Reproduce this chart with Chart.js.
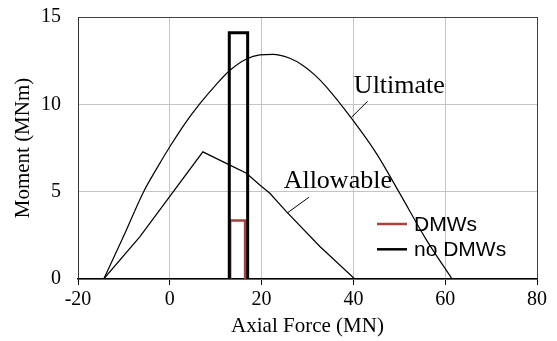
<!DOCTYPE html>
<html>
<head>
<meta charset="utf-8">
<script src="https://cdn.jsdelivr.net/npm/chart.js@4/dist/chart.umd.min.js"></script>
<style>
  html, body { margin: 0; padding: 0; background: #fff; }
  #wrap { width: 557px; height: 341px; }
</style>
</head>
<body>
<div id="wrap"><canvas id="canvas"></canvas></div>
<script>
// values
var ultimateX = [-14.4, -10.1, -5.7, -2.8, 0, 3.3, 6.6, 10, 13.1, 16.7, 19.6, 22.5, 26, 29, 31.5, 34.1, 39.6, 45, 50.1, 55.9, 61.5];
var ultimateY = [0, 2.43, 5.0, 6.35, 7.57, 8.9, 10.05, 11.1, 11.95, 12.6, 12.83, 12.86, 12.65, 12.23, 11.7, 11.0, 9.19, 7.19, 4.9, 2.24, 0];

var allowableX = [-14.4, -6.5, 7.2, 13.1, 16.7, 19.6, 21.8, 25.4, 32.7, 40.3];
var allowableY = [0, 2.43, 7.28, 6.52, 6.05, 5.38, 4.91, 3.86, 1.86, 0];

var noDmwX = [12.96, 12.96, 16.96, 16.96];
var noDmwY = [0, 14.1, 14.1, 0];
var dmwX = [13.15, 13.15, 16.4, 16.4];
var dmwY = [0, 3.35, 3.35, 0];

var xTicks = [-20, 0, 20, 40, 60, 80];
var yTicks = [0, 5, 10, 15];

var seriesNames = ['DMWs', 'no DMWs'];
var curveLabels = ['Ultimate', 'Allowable'];

function pts(xs, ys) {
    return xs.map(function (x, i) { return { x: x, y: ys[i] }; });
}

var RED = '#a8403c';
var serif = '"Liberation Serif", "Times New Roman", serif';

// text labels with little leader lines, plus the in-plot legend
var extras = {
    id: 'extras',
    afterDatasetsDraw: function (chart) {
        var c = chart.ctx, xs = chart.scales.x, ys = chart.scales.y;
        var px = function (v) { return xs.getPixelForValue(v); };
        var py = function (v) { return ys.getPixelForValue(v); };
        c.save();
        c.strokeStyle = '#000';
        c.lineWidth = 1;
        c.beginPath();
        c.moveTo(px(43.1), py(10.18)); c.lineTo(px(39.6), py(9.26));
        c.moveTo(px(30.3), py(4.68)); c.lineTo(px(25.7), py(3.8));
        c.stroke();

        c.fillStyle = '#000';
        c.font = '26px ' + serif;
        c.textBaseline = 'alphabetic';
        c.textAlign = 'left';
        c.fillText(curveLabels[0], px(40.1), py(10.63));
        c.fillText(curveLabels[1], px(24.8), py(5.19));

        // legend
        var colors = [RED, '#000'];
        c.font = '21px "Liberation Sans", Arial, sans-serif';
        c.textBaseline = 'middle';
        for (var i = 0; i < seriesNames.length; i++) {
            var y = 224 + i * 25.3;
            c.strokeStyle = colors[i];
            c.lineWidth = 2.5;
            c.beginPath();
            c.moveTo(377, y); c.lineTo(407, y);
            c.stroke();
            c.fillStyle = '#000';
            c.fillText(seriesNames[i], 414, y + 1);
        }
        c.restore();
    }
};

var config = {
    type: 'scatter',
    data: {
        datasets: [{
            label: 'Ultimate',
            data: pts(ultimateX, ultimateY),
            showLine: true,
            borderColor: '#000',
            borderWidth: 1.2,
            pointRadius: 0,
            cubicInterpolationMode: 'monotone'
        }, {
            label: 'Allowable',
            data: pts(allowableX, allowableY),
            showLine: true,
            borderColor: '#000',
            borderWidth: 1.2,
            pointRadius: 0,
            tension: 0
        }, {
            label: seriesNames[1],
            data: pts(noDmwX, noDmwY),
            showLine: true,
            borderColor: '#000',
            borderWidth: 3,
            pointRadius: 0,
            tension: 0
        }, {
            label: seriesNames[0],
            data: pts(dmwX, dmwY),
            showLine: true,
            borderColor: RED,
            borderWidth: 2.5,
            pointRadius: 0,
            tension: 0
        }]
    },
    options: {
        responsive: true,
        maintainAspectRatio: false,
        animation: false,
        layout: { padding: { top: 17, right: 20, left: 0, bottom: 0 } },
        plugins: {
            legend: { display: false },
            tooltip: { enabled: false }
        },
        scales: {
            x: {
                type: 'linear',
                min: xTicks[0],
                max: xTicks[xTicks.length - 1],
                afterBuildTicks: function (s) { s.ticks = xTicks.map(function (v) { return { value: v }; }); },
                afterFit: function (s) { s.height = 62; s.paddingLeft = 0; s.paddingRight = 0; },
                grid: {
                    color: function (ctx) { return ctx.tick && ctx.tick.value === 80 ? '#404040' : '#c4c4c4'; },
                    tickColor: '#000',
                    tickLength: 6
                },
                border: { color: '#000', width: 1.5 },
                ticks: {
                    color: '#000',
                    font: { family: serif, size: 20 },
                    padding: 3,
                    maxRotation: 0,
                    autoSkip: false
                },
                title: {
                    display: true,
                    text: 'Axial Force (MN)',
                    color: '#000',
                    font: { family: serif, size: 21 },
                    padding: { top: -4, bottom: 2 }
                }
            },
            y: {
                type: 'linear',
                min: yTicks[0],
                max: yTicks[yTicks.length - 1],
                afterBuildTicks: function (s) { s.ticks = yTicks.map(function (v) { return { value: v }; }); },
                afterFit: function (s) { s.width = 78; s.paddingTop = 0; s.paddingBottom = 0; },
                grid: {
                    color: function (ctx) { return ctx.tick && ctx.tick.value === 15 ? '#404040' : '#c4c4c4'; },
                    drawTicks: false
                },
                border: { color: '#333', width: 1 },
                ticks: {
                    color: '#000',
                    font: { family: serif, size: 20 },
                    padding: 17
                },
                title: {
                    display: true,
                    text: 'Moment (MNm)',
                    color: '#000',
                    font: { family: serif, size: 21 },
                    padding: { top: 11, bottom: 0 }
                }
            }
        }
    },
    plugins: [extras]
};

window.onload = function () {
    window.myChart = new Chart(document.getElementById('canvas'), config);
};
</script>
</body>
</html>
